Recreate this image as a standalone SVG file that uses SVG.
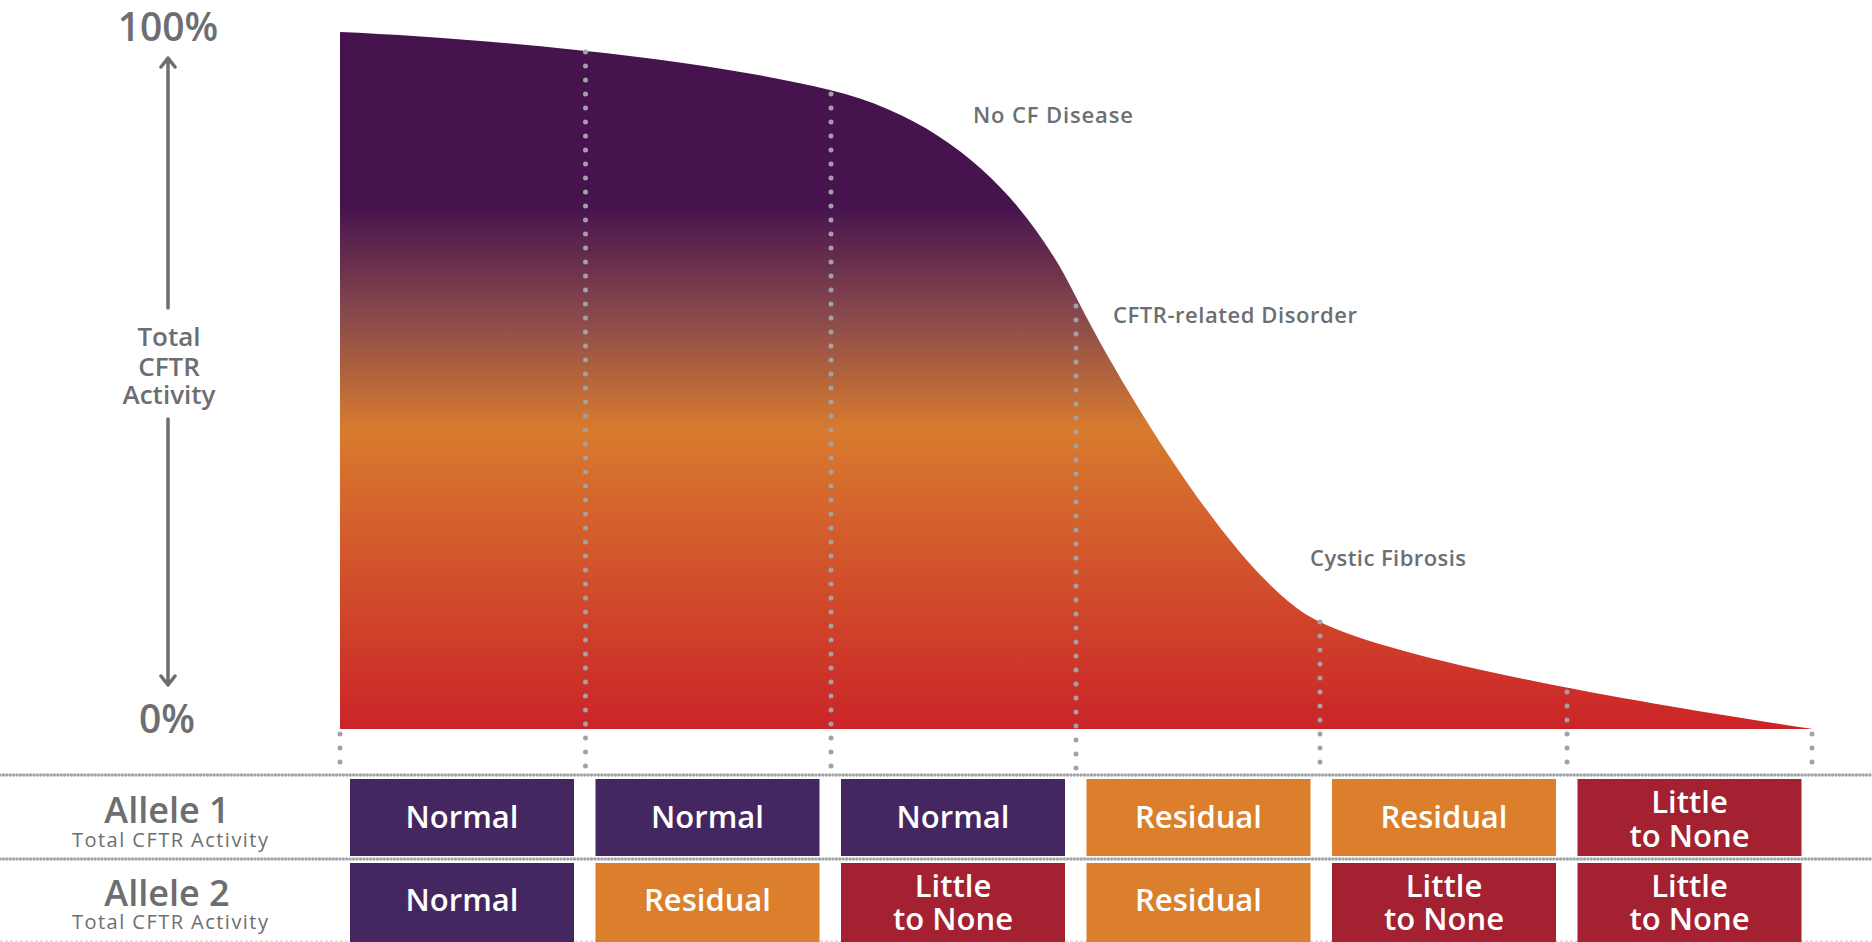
<svg xmlns="http://www.w3.org/2000/svg" width="1872" height="942" viewBox="0 0 1872 942">
<defs>
<linearGradient id="actGrad" gradientUnits="userSpaceOnUse" x1="0" y1="32" x2="0" y2="729">
<stop offset="0" stop-color="#47134f"/>
<stop offset="0.25" stop-color="#47134f"/>
<stop offset="0.41" stop-color="#8a4a4c"/>
<stop offset="0.57" stop-color="#d87b2e"/>
<stop offset="1" stop-color="#cb2428"/>
</linearGradient>
<style>
.gray{fill:#6d6e71;font-family:"Open Sans","Liberation Sans",sans-serif;}
.pct{font-size:39px;font-weight:600;text-anchor:middle;}
.axis{font-size:26px;font-weight:600;text-anchor:middle;}
.zone{font-size:22px;font-weight:600;}
.allele{font-size:36px;font-weight:600;text-anchor:middle;}
.sub{font-size:20px;font-weight:400;text-anchor:middle;}
.box text{fill:#ffffff;font-family:"Open Sans","Liberation Sans",sans-serif;font-size:31px;font-weight:600;text-anchor:middle;}
.p{fill:#442760;}
.o{fill:#db7f2d;}
.r{fill:#a32130;}
.vdots{stroke:#a0a2a5;stroke-width:5;stroke-linecap:round;stroke-dasharray:0 14;fill:none;}
.hdots{stroke:#a3a4a7;stroke-width:3.4;stroke-linecap:round;stroke-dasharray:0 3.4;fill:none;}
.axisline{stroke:#6d6e71;stroke-width:3.5;fill:none;stroke-linecap:round;stroke-linejoin:round;}
</style>
</defs>

<g id="curve">
<path d="M340,32 C480,38 700,58 830,90 C955,120 1030,205 1075,295 C1120,385 1240,585 1318,621 C1400,662 1650,705 1813,729 L340,729 Z" fill="url(#actGrad)"/>
</g>

<g id="axis-labels">
<text class="gray pct" x="168" y="41">100%</text>
<text class="gray axis" x="169" y="346">Total</text>
<text class="gray axis" x="169" y="376">CFTR</text>
<text class="gray axis" x="169" y="404">Activity</text>
<text class="gray pct" x="167" y="733">0%</text>
</g>

<g id="zone-labels">
<text class="gray zone" x="973" y="123" textLength="160">No CF Disease</text>
<text class="gray zone" x="1113" y="323" textLength="244">CFTR-related Disorder</text>
<text class="gray zone" x="1310" y="566" textLength="156">Cystic Fibrosis</text>
</g>

<g id="row-labels">
<text class="gray allele" x="167" y="823">Allele 1</text>
<text class="gray sub" x="170" y="847" textLength="196">Total CFTR Activity</text>
<text class="gray allele" x="167" y="906">Allele 2</text>
<text class="gray sub" x="170" y="929" textLength="196">Total CFTR Activity</text>
</g>

<g id="connectors">
<path class="axisline" d="M168,59 L168,308 M161,67 L168,58 L175,67"/>
<path class="axisline" d="M168,419 L168,684 M161,676 L168,685 L175,676"/>
<path class="vdots" d="M340,734 L340,776"/>
<path class="vdots" d="M585.5,52 L585.5,776"/>
<path class="vdots" d="M831,94 L831,776"/>
<path class="vdots" d="M1076,306 L1076,776"/>
<path class="vdots" d="M1320,622 L1320,776"/>
<path class="vdots" d="M1567,692 L1567,776"/>
<path class="vdots" d="M1812,734 L1812,776"/>
<path class="hdots" d="M0,775 L1872,775"/>
<path class="hdots" d="M0,859 L1872,859"/>
<path d="M0,941 L1872,941" stroke="#c9cacc" stroke-width="1" stroke-dasharray="3 2" fill="none"/>
</g>

<g id="allele1-row">
<g id="a1-b1" class="box"><rect class="p" x="350" y="779" width="224" height="77"/><text x="462" y="828">Normal</text></g>
<g id="a1-b2" class="box"><rect class="p" x="595.5" y="779" width="224" height="77"/><text x="707.5" y="828">Normal</text></g>
<g id="a1-b3" class="box"><rect class="p" x="841" y="779" width="224" height="77"/><text x="953" y="828">Normal</text></g>
<g id="a1-b4" class="box"><rect class="o" x="1086.5" y="779" width="224" height="77"/><text x="1198.5" y="828">Residual</text></g>
<g id="a1-b5" class="box"><rect class="o" x="1332" y="779" width="224" height="77"/><text x="1444" y="828">Residual</text></g>
<g id="a1-b6" class="box"><rect class="r" x="1577.5" y="779" width="224" height="77"/><text x="1689.5" y="813">Little</text><text x="1689.5" y="847">to None</text></g>
</g>

<g id="allele2-row">
<g id="a2-b1" class="box"><rect class="p" x="350" y="863" width="224" height="79"/><text x="462" y="911">Normal</text></g>
<g id="a2-b2" class="box"><rect class="o" x="595.5" y="863" width="224" height="79"/><text x="707.5" y="911">Residual</text></g>
<g id="a2-b3" class="box"><rect class="r" x="841" y="863" width="224" height="79"/><text x="953" y="897">Little</text><text x="953" y="930">to None</text></g>
<g id="a2-b4" class="box"><rect class="o" x="1086.5" y="863" width="224" height="79"/><text x="1198.5" y="911">Residual</text></g>
<g id="a2-b5" class="box"><rect class="r" x="1332" y="863" width="224" height="79"/><text x="1444" y="897">Little</text><text x="1444" y="930">to None</text></g>
<g id="a2-b6" class="box"><rect class="r" x="1577.5" y="863" width="224" height="79"/><text x="1689.5" y="897">Little</text><text x="1689.5" y="930">to None</text></g>
</g>
</svg>
